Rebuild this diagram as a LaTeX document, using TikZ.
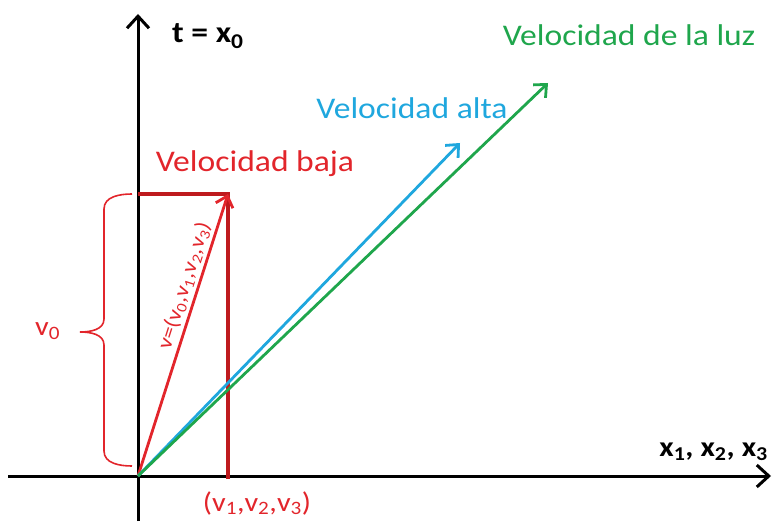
\documentclass[tikz,border=0pt]{standalone}
\usepackage{fontspec}
\setmainfont{Carlito}[FakeStretch=1.12]
\usepackage{tikz}
\usetikzlibrary{arrows.meta}
\definecolor{rojo}{HTML}{E2252B}
\definecolor{rojoosc}{HTML}{BE1A1E}
\definecolor{azul}{HTML}{1FA7DE}
\definecolor{verde}{HTML}{1FA64C}
\tikzset{axis/.style={line width=3pt, -{Straight Barb[length=12pt, width=22pt, line width=3pt]}},
  vec/.style={line width=2.8pt, -{Straight Barb[length=10pt, width=18pt, line width=2.8pt]}},
  lbl/.style={inner sep=0pt, font=\fontsize{30}{36}\selectfont},
  sml/.style={inner sep=0pt, font=\fontsize{27}{32}\selectfont}}
\newcommand{\vsub}[1]{\textsubscript{#1}}

\begin{document}
\begin{tikzpicture}[x=1pt, y=1pt]
\useasboundingbox (0,0) rectangle (775,527);
\coordinate (O) at (138,51);
\coordinate (tTop) at (138,513); \coordinate (tBot) at (138,6);
\coordinate (xL) at (8,51); \coordinate (xR) at (771,51);
\coordinate (pRed) at (228,333); \coordinate (pCorner) at (138,333); \coordinate (pFoot) at (228,48);
\coordinate (pBlue) at (460,384);
\coordinate (pGreen) at (548,444);
% axes
\draw[axis] (tBot) -- (tTop);
\draw[axis] (xL) -- (xR);
\node[lbl, font=\fontsize{30}{36}\selectfont\bfseries, anchor=base west] (tlab) at (172,484) {t = x\vsub{0}};
\node[lbl, font=\fontsize{28}{34}\selectfont\bfseries, anchor=base east] (xlab) at (768,71) {x\vsub{1}, x\vsub{2}, x\vsub{3}};
% low speed
\draw[rojoosc, line width=3.5pt] (pCorner) -- (pRed) -- (pFoot);
\draw[vec, rojo] (O) -- (pRed) node[pos=0.66, sloped, above=3pt, text=rojo, inner sep=0pt, font=\fontsize{21}{25}\selectfont] (vlab) {v=(v\vsub{0},v\vsub{1},v\vsub{2},v\vsub{3})};
\draw[rojo, line width=1.6pt] (132,333) to[out=180, in=90] (104,318) -- (104,208) to[out=-90, in=0] (80,195) to[out=0, in=90] (104,182) -- (104,76) to[out=-90, in=180] (132,61);
\node[sml, text=rojo, anchor=base west] (v0lab) at (35,191) {v\vsub{0}};
\node[sml, text=rojo, anchor=base] (plab) at (257,16) {(v\vsub{1},v\vsub{2},v\vsub{3})};
\node[lbl, text=rojo, anchor=base] (baja) at (255,355) {Velocidad baja};
% high speed and light
\draw[vec, azul] (O) -- (pBlue);
\draw[vec, verde] (O) -- (pGreen);
\node[lbl, text=azul, anchor=base] (alta) at (412,408) {Velocidad alta};
\node[lbl, text=verde, anchor=base] (luz) at (629,481) {Velocidad de la luz};
\end{tikzpicture}
\end{document}
